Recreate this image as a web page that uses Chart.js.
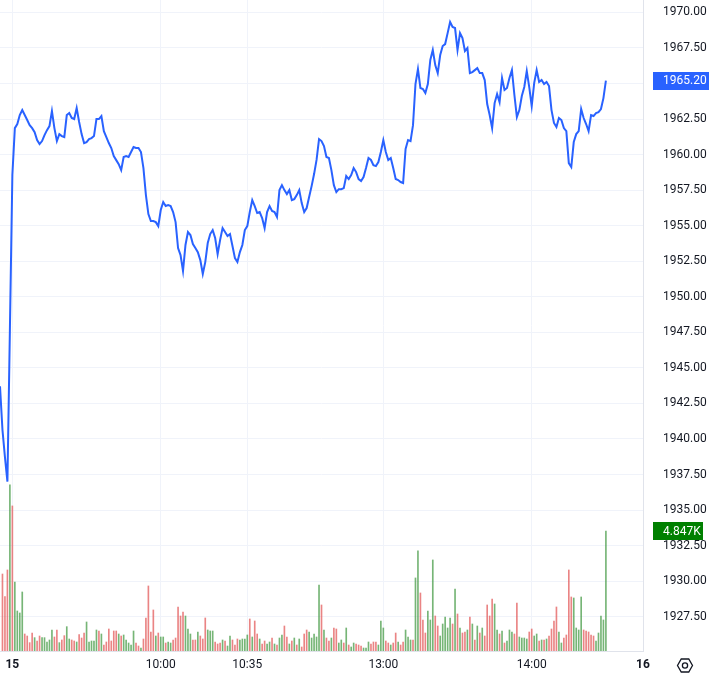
<!DOCTYPE html>
<html>
<head>
<meta charset="utf-8">
<script src="https://cdn.jsdelivr.net/npm/chart.js@4.4.0/dist/chart.umd.min.js"></script>
<style>
  html, body { margin: 0; padding: 0; background: #fff; }
</style>
</head>
<body>
<canvas id="myChart" width="714" height="677"></canvas>
<script>
// one-minute bars, first entry is the bar just left of the visible area
var firstBar = -1;
var prices = [1943.7,
  1940.63, 1938.73, 1937.0, 1947.66, 1958.56, 1961.86, 1962.15, 1962.78, 1963.13, 1962.78,
  1962.43, 1962.07, 1961.86, 1961.58, 1961.02, 1960.74, 1960.95, 1961.37, 1961.72, 1962.0,
  1963.06, 1961.86, 1960.95, 1961.44, 1961.30, 1961.23, 1962.78, 1962.92, 1962.57, 1962.50,
  1963.27, 1962.29, 1961.44, 1960.81, 1960.88, 1961.09, 1961.16, 1961.30, 1962.50, 1962.50,
  1962.71, 1961.65, 1961.23, 1960.81, 1960.46, 1959.90, 1959.61, 1959.33, 1958.91, 1959.83,
  1959.90, 1959.83, 1960.18, 1960.53, 1960.46, 1960.46, 1960.18, 1959.05, 1957.15, 1955.82,
  1955.32, 1955.32, 1955.25, 1954.97, 1956.10, 1956.66, 1956.38, 1956.45, 1956.38, 1955.96,
  1955.25, 1953.43, 1952.93, 1951.81, 1953.64, 1954.55, 1954.34, 1953.71, 1953.43, 1953.14,
  1952.58, 1951.60, 1952.44, 1953.78, 1954.41, 1954.69, 1954.13, 1953.0, 1953.99, 1954.83,
  1954.55, 1954.27, 1954.41, 1953.57, 1952.72, 1952.44, 1953.14, 1953.64, 1954.69, 1954.97,
  1955.96, 1956.80, 1956.38, 1955.89, 1955.96, 1955.54, 1954.83, 1955.96, 1956.38, 1956.03,
  1955.96, 1955.61, 1957.50, 1957.85, 1957.50, 1957.22, 1957.50, 1956.80, 1956.87, 1957.15,
  1957.50, 1956.59, 1955.96, 1956.24, 1957.01, 1957.78, 1958.63, 1959.62, 1961.09, 1960.95,
  1960.60, 1959.83, 1959.76, 1958.91, 1957.85, 1957.36, 1957.57, 1957.57, 1957.64, 1958.49,
  1958.28, 1958.56, 1959.05, 1958.77, 1958.28, 1958.14, 1958.42, 1959.05, 1959.76, 1959.62,
  1959.26, 1959.19, 1959.47, 1960.18, 1961.02, 1960.18, 1959.62, 1959.76, 1959.05, 1958.28,
  1958.21, 1958.07, 1958.0, 1960.39, 1961.02, 1960.95, 1962.07, 1964.96, 1966.01, 1964.68,
  1964.61, 1964.33, 1964.96, 1966.65, 1967.35, 1966.29, 1965.73, 1967.0, 1967.63, 1967.77,
  1968.54, 1969.32, 1968.97, 1968.90, 1967.35, 1968.54, 1968.19, 1967.28, 1967.49, 1965.73,
  1965.80, 1965.94, 1966.08, 1965.73, 1965.73, 1965.24, 1963.55, 1962.78, 1961.86, 1963.62,
  1964.26, 1963.69, 1965.38, 1964.54, 1964.68, 1965.38, 1965.94, 1964.19, 1962.64, 1963.13,
  1964.12, 1964.75, 1965.87, 1964.75, 1963.41, 1965.03, 1965.94, 1965.10, 1965.24, 1964.96,
  1965.10, 1964.82, 1963.13, 1962.22, 1961.94, 1962.57, 1962.43, 1961.86, 1961.65, 1959.40,
  1959.12, 1960.88, 1961.44, 1961.65, 1963.20, 1962.57, 1962.15, 1961.65, 1962.78, 1962.71,
  1962.92, 1962.99, 1963.20, 1963.97, 1965.20];

var volumes = [null,
  3110, 2196, 3273, 6708, 5859, 2788, 1616, 1536, 2384, 687,
  606, 337, 727, 539, 404, 606, 539, 539, 364, 445,
  849, 566, 849, 337, 445, 620, 983, 485, 445, 404,
  364, 660, 525, 727, 1172, 364, 404, 404, 849, 808,
  687, 242, 364, 889, 404, 808, 808, 687, 606, 647,
  445, 323, 242, 808, 323, 202, 121, 485, 1334, 2627,
  768, 1657, 606, 727, 566, 566, 323, 364, 323, 445,
  525, 1778, 1414, 1576, 1414, 889, 687, 445, 445, 768,
  606, 485, 1334, 849, 808, 808, 364, 283, 323, 445,
  404, 202, 606, 445, 242, 485, 445, 485, 485, 647,
  1293, 566, 1212, 687, 485, 283, 404, 283, 364, 525,
  283, 242, 525, 647, 1010, 566, 283, 404, 525, 242,
  485, 162, 687, 849, 768, 525, 687, 566, 2667, 1859,
  849, 525, 404, 525, 929, 889, 323, 445, 323, 929,
  242, 162, 323, 283, 242, 202, 121, 121, 364, 283,
  364, 364, 242, 1212, 929, 404, 323, 242, 323, 727,
  364, 242, 364, 849, 566, 445, 445, 2950, 4041, 2344,
  1253, 727, 1616, 1253, 3677, 1414, 1010, 606, 1091, 1374,
  929, 1334, 1091, 2505, 1495, 929, 727, 768, 849, 1374,
  1091, 445, 1010, 727, 929, 606, 1859, 1414, 2101, 1899,
  849, 687, 808, 323, 404, 849, 768, 687, 1940, 566,
  525, 525, 485, 768, 889, 606, 687, 404, 445, 445,
  485, 606, 889, 1212, 1778, 768, 323, 525, 647, 3273,
  2182, 2142, 929, 849, 2182, 849, 808, 768, 647, 606,
  404, 727, 1414, 1253, 4847];

// u = up bar, d = down bar (bars 0..244)
var volumeDir = ('?' +
  'ddduduuuud' + 'dddudduuuu' + 'uddudduudd' + 'uddduuuuud' + 'uddddddudu' +
  'uuuudduddd' + 'dduduuduud' + 'dddduuuddu' + 'ddduuudddu' + 'duuddduuuu' +
  'duddudduud' + 'uduuddudud' + 'uddduuuuud' + 'uddudduudu' + 'duuddduuud' +
  'dduuuddudd' + 'udduuuduud' + 'dduuudduuu' + 'uudududdud' + 'udududdddu' +
  'ududuuuddu' + 'uuudduudud' + 'udddduuddd' + 'duuuuddddd' + 'uuuuu').split('');

var tickBars = [4, 64, 99, 154, 214, 259];
var tickLabels = ['15', '10:00', '10:35', '13:00', '14:00', '16'];
var priceTicks = [1927.5, 1930, 1932.5, 1935, 1937.5, 1940, 1942.5, 1945, 1947.5, 1950,
  1952.5, 1955, 1957.5, 1960, 1962.5, 1965, 1967.5, 1970];
var lastPrice = 1965.20;
var lastVolume = 4847;

var FONT = 'Roboto, "Liberation Sans", sans-serif';

var labelsPlugin = {
  id: 'labels',
  afterDraw: function (chart) {
    var c = chart.ctx;
    var y = chart.scales.y, v = chart.scales.v;
    c.save();
    c.font = '12px ' + FONT;
    c.textBaseline = 'middle';
    c.textAlign = 'left';

    var py = y.getPixelForValue(lastPrice);
    c.fillStyle = '#2962ff';
    c.fillRect(653, Math.round(py) - 9, 56, 18);
    c.fillStyle = '#ffffff';
    c.fillText(lastPrice.toFixed(2), 663, py + 0.5);

    var vy = v.getPixelForValue(lastVolume);
    c.fillStyle = '#008000';
    c.fillRect(653, Math.round(vy) - 9, 50, 18);
    c.fillStyle = '#ffffff';
    c.fillText((lastVolume / 1000).toFixed(3) + 'K', 663, vy + 0.5);

    // settings icon
    c.strokeStyle = '#131722';
    c.lineWidth = 1.3;
    c.beginPath();
    for (var k = 0; k < 6; k++) {
      var a = Math.PI / 3 * k;
      var hx = 685 + 7.5 * Math.cos(a), hy = 665.5 + 7.5 * Math.sin(a);
      if (k === 0) c.moveTo(hx, hy); else c.lineTo(hx, hy);
    }
    c.closePath();
    c.stroke();
    c.beginPath();
    c.arc(685, 665.5, 2.6, 0, Math.PI * 2);
    c.stroke();
    c.restore();
  }
};

var ctx = document.getElementById('myChart').getContext('2d');
var myChart = new Chart(ctx, {
  type: 'bar',
  data: {
    datasets: [{
      type: 'line',
      data: prices.map(function (p, i) { return { x: i + firstBar, y: p }; }),
      borderColor: '#2962ff',
      borderWidth: 2,
      pointRadius: 0,
      tension: 0,
      yAxisID: 'y',
      order: 0
    }, {
      type: 'bar',
      data: volumes.map(function (vol, i) { return { x: i + firstBar, y: vol }; }),
      backgroundColor: volumeDir.map(function (d) {
        return d === 'u' ? 'rgba(60,150,60,0.7)' : 'rgba(225,80,80,0.7)';
      }),
      barThickness: 1,
      yAxisID: 'v',
      order: 1
    }]
  },
  options: {
    responsive: false,
    animation: false,
    layout: { padding: 0 },
    plugins: { legend: { display: false }, tooltip: { enabled: false } },
    scales: {
      x: {
        type: 'linear',
        min: -1,
        max: 259,
        offset: false,
        afterBuildTicks: function (s) {
          s.ticks = tickBars.map(function (b) { return { value: b }; });
        },
        afterFit: function (s) {
          s.height = 26;
          s.paddingLeft = 0; s.paddingRight = 0; s.paddingTop = 0; s.paddingBottom = 0;
        },
        grid: { color: '#f0f3fa', drawTicks: true, tickLength: 7, tickColor: 'rgba(0,0,0,0)', offset: false },
        border: { color: '#e0e3eb' },
        ticks: {
          autoSkip: false,
          maxRotation: 0,
          padding: 0,
          color: '#131722',
          font: function (c) {
            var lab = c.tick ? tickLabels[tickBars.indexOf(c.tick.value)] : '';
            return { family: FONT, size: 12, weight: (lab === '15' || lab === '16') ? 'bold' : 'normal' };
          },
          callback: function (val) { return tickLabels[tickBars.indexOf(val)]; }
        }
      },
      y: {
        position: 'right',
        min: 1925.09,
        max: 1970.87,
        afterBuildTicks: function (s) {
          s.ticks = priceTicks.map(function (p) { return { value: p }; });
        },
        afterFit: function (s) {
          s.width = 71;
          s.paddingLeft = 0; s.paddingRight = 0; s.paddingTop = 0; s.paddingBottom = 0;
        },
        grid: { color: '#f0f3fa', drawTicks: true, tickLength: 20, tickColor: 'rgba(0,0,0,0)' },
        border: { color: '#e0e3eb' },
        ticks: {
          padding: 0,
          color: '#131722',
          font: { family: FONT, size: 12 },
          callback: function (val) { return val.toFixed(2); }
        }
      },
      v: {
        display: false,
        min: 0,
        max: 26295
      }
    }
  },
  plugins: [labelsPlugin]
});
</script>
</body>
</html>
